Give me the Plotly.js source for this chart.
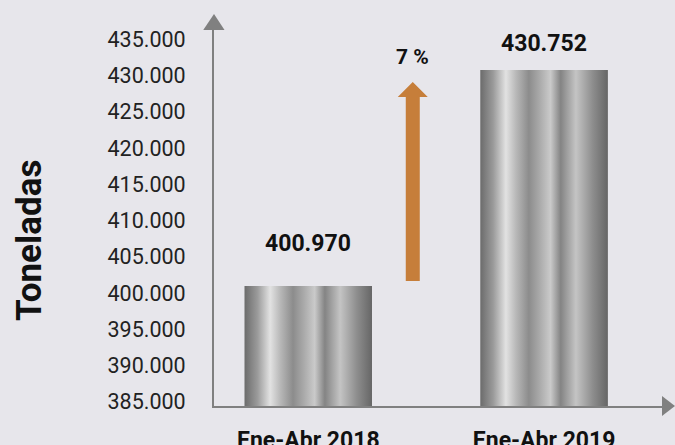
<!DOCTYPE html>
<html>
<head>
<meta charset="utf-8">
<script src="https://cdn.plot.ly/plotly-3.0.1.min.js"></script>
<style>html,body{margin:0;padding:0;background:#e7e6eb;}#chart{width:675px;height:445px;}</style>
</head>
<body>
<div id="chart"></div>
<script>
var categories = ["Ene-Abr 2018", "Ene-Abr 2019"];
var values = [400970, 430752];
var valueLabels = ["400.970", "430.752"];
var growthLabel = "7 %";
var yTicks = [385000, 390000, 395000, 400000, 405000, 410000, 415000, 420000, 425000, 430000, 435000];
var yTickLabels = ["385.000", "390.000", "395.000", "400.000", "405.000", "410.000", "415.000", "420.000", "425.000", "430.000", "435.000"];

var yMin = 384425, yMax = 436266;
var barHalf = 0.27;
var metal = [
  [0.00, "#6c6c6c"], [0.10, "#9a9a9a"], [0.20, "#e2e2e2"], [0.28, "#b8b8b8"],
  [0.38, "#8c8c8c"], [0.46, "#a8a8a8"], [0.55, "#cacaca"], [0.63, "#848484"],
  [0.75, "#c4c4c4"], [0.88, "#8e8e8e"], [1.00, "#666666"]
];

var traces = [{
  type: "bar", x: [0, 1], y: values, base: 0, width: 2 * barHalf,
  marker: {color: "#9a9a9a", line: {width: 0}}, hoverinfo: "skip", showlegend: false
}];
values.forEach(function (v, i) {
  traces.push({
    type: "scatter", mode: "lines", showlegend: false, hoverinfo: "skip",
    x: [i - barHalf, i + barHalf, i + barHalf, i - barHalf, i - barHalf],
    y: [yMin, yMin, v, v, yMin],
    fill: "toself", line: {width: 0, color: "rgba(0,0,0,0)"},
    fillgradient: {type: "horizontal", colorscale: metal}
  });
});

// growth arrow between the bars (from first value to near the second)
var ax = 0.443, shaftW = 0.0297, headW = 0.0636;
var aBottom = values[0] + 700, aTip = values[1] - 1650, aHeadBase = values[1] - 3720;
var arrowPath = "M " + (ax - shaftW) + "," + aBottom + " L " + (ax + shaftW) + "," + aBottom +
  " L " + (ax + shaftW) + "," + aHeadBase + " L " + (ax + headW) + "," + aHeadBase +
  " L " + ax + "," + aTip + " L " + (ax - headW) + "," + aHeadBase +
  " L " + (ax - shaftW) + "," + aHeadBase + " Z";

var annotations = values.map(function (v, i) {
  return {x: i, y: v, xref: "x", yref: "y", text: "<b>" + valueLabels[i] + "</b>",
    showarrow: false, yshift: i === 0 ? 43 : 26,
    font: {family: "Roboto, sans-serif", size: 23, color: "#111"}};
});
annotations.push({x: ax, y: aTip, xref: "x", yref: "y", text: "<b>" + growthLabel + "</b>",
  showarrow: false, yshift: 25, font: {family: "Roboto, sans-serif", size: 21, color: "#111"}});
annotations.push({x: (29 - 214) / 448, y: (406 - 241) / 376, xref: "paper", yref: "paper",
  xanchor: "center", yanchor: "middle",
  text: "<b>Toneladas</b>", textangle: -90, showarrow: false,
  font: {family: "Roboto, sans-serif", size: 35, color: "#111"}});

var layout = {
  width: 675, height: 445,
  margin: {l: 214, r: 13, t: 30, b: 39},
  paper_bgcolor: "#e7e6eb", plot_bgcolor: "#e7e6eb",
  separators: ",.",
  showlegend: false,
  xaxis: {
    range: [-0.4, 1.5], tickvals: [0, 1], ticktext: categories.map(function (c) { return "<b>" + c + "</b>"; }),
    showgrid: false, zeroline: false, showline: true, linecolor: "#808080", linewidth: 2,
    ticks: "", ticklabelstandoff: 12, fixedrange: true,
    tickfont: {family: "Roboto, sans-serif", size: 23, color: "#111"}
  },
  yaxis: {
    range: [yMin, yMax], tickvals: yTicks, ticktext: yTickLabels,
    showgrid: false, zeroline: false, showline: true, linecolor: "#808080", linewidth: 2,
    ticks: "", ticklabelstandoff: 22, fixedrange: true,
    tickfont: {family: "Roboto, sans-serif", size: 21.5, color: "#222"}
  },
  shapes: [
    {type: "path", xref: "x", yref: "y", path: arrowPath, fillcolor: "#c67e3a", line: {width: 0}},
    {type: "path", xref: "paper", yref: "paper",
     path: "M -0.024,1.0 L 0.0235,1.0 L 0,1.0426 Z", fillcolor: "#808080", line: {width: 0}},
    {type: "path", xref: "paper", yref: "paper",
     path: "M 1.0,0.0266 L 1.0,-0.0266 L 1.029,0 Z", fillcolor: "#808080", line: {width: 0}}
  ],
  annotations: annotations
};

Plotly.newPlot("chart", traces, layout, {displayModeBar: false, staticPlot: true});
</script>
</body>
</html>
